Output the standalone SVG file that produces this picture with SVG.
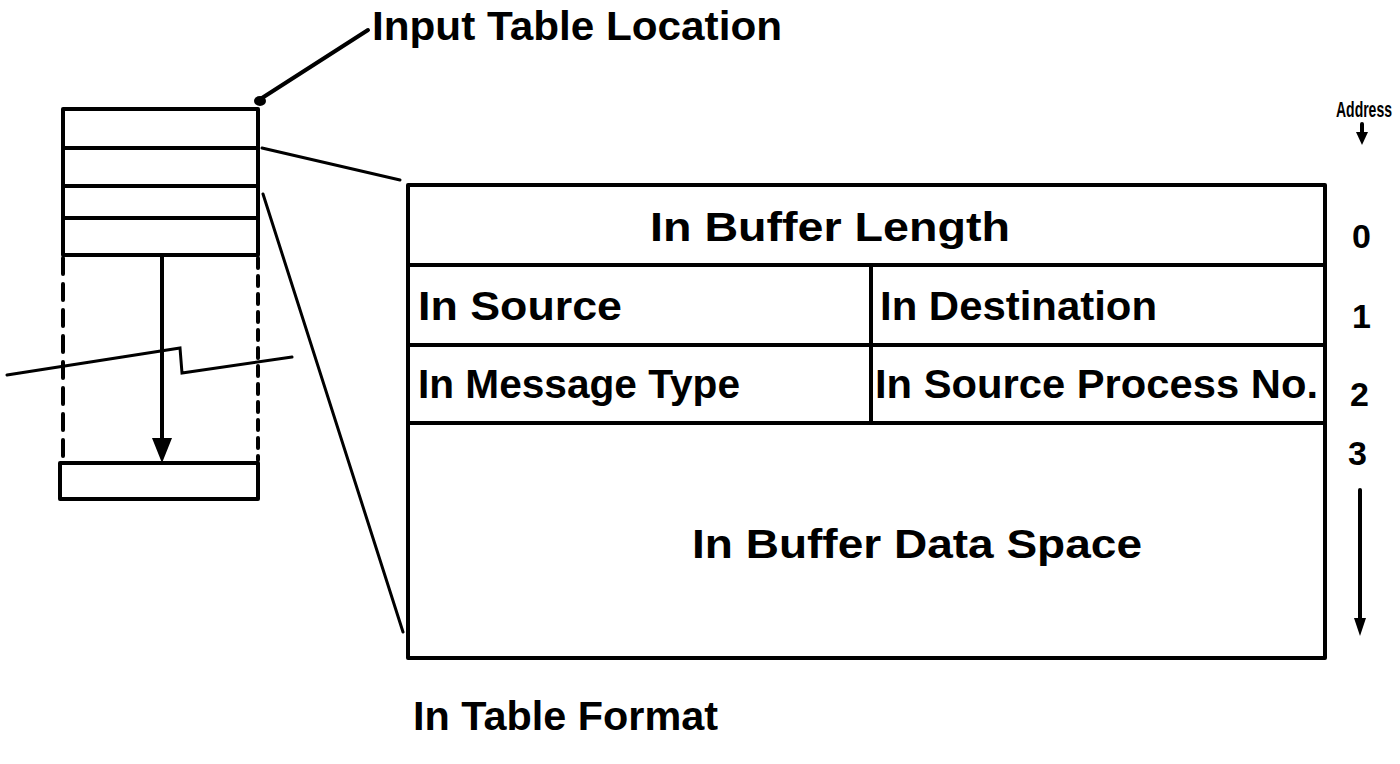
<svg xmlns="http://www.w3.org/2000/svg" width="1400" height="764" viewBox="0 0 1400 764">
<defs>
<style>
.ln{stroke:#000;stroke-width:4;fill:none;stroke-linecap:round;stroke-linejoin:round}
.thin{stroke:#000;stroke-width:3;fill:none;stroke-linecap:round}
.t{font-family:"Liberation Sans",Arial,sans-serif;font-weight:bold;font-size:40px;fill:#000}
.s{font-family:"Liberation Sans",Arial,sans-serif;font-weight:bold;font-size:14px;fill:#000}
.n{font-family:"Liberation Sans",Arial,sans-serif;font-weight:bold;font-size:34px;fill:#000}
</style>
</defs>
<rect width="1400" height="764" fill="#fff"/>

<g id="input-table-stack">
<rect class="ln" x="63" y="109" width="195" height="146"/>
<line class="ln" x1="63" y1="148" x2="258" y2="148"/>
<line class="ln" x1="63" y1="186" x2="258" y2="186"/>
<line class="ln" x1="63" y1="218" x2="258" y2="218"/>
<line class="ln" x1="63" y1="258" x2="63" y2="460" stroke-dasharray="16,10"/>
<line class="ln" x1="258" y1="258" x2="258" y2="460" stroke-dasharray="10,8"/>
<rect class="ln" x="60" y="463" width="198" height="36"/>
</g>

<g id="input-table-location-label">
<text class="t" x="372" y="40" textLength="410" lengthAdjust="spacingAndGlyphs">Input Table Location</text>
</g>

<g id="in-table-format">
<rect class="ln" x="408" y="185" width="917" height="473"/>
<line class="ln" x1="408" y1="265" x2="1325" y2="265"/>
<line class="ln" x1="408" y1="345" x2="1325" y2="345"/>
<line class="ln" x1="408" y1="423" x2="1325" y2="423"/>
<line class="ln" x1="871" y1="265" x2="871" y2="423"/>
<text class="t" x="650" y="241" textLength="360" lengthAdjust="spacingAndGlyphs">In Buffer Length</text>
<text class="t" x="418" y="320" textLength="204" lengthAdjust="spacingAndGlyphs">In  Source</text>
<text class="t" x="880" y="320" textLength="277" lengthAdjust="spacingAndGlyphs">In Destination</text>
<text class="t" x="418" y="398" textLength="322" lengthAdjust="spacingAndGlyphs">In Message Type</text>
<text class="t" x="875" y="398" textLength="443" lengthAdjust="spacingAndGlyphs">In Source Process No.</text>
<text class="t" x="692" y="558" textLength="450" lengthAdjust="spacingAndGlyphs">In Buffer Data  Space</text>
</g>

<g id="address-column">
<text class="s" transform="translate(1336,117) scale(1,1.6)" x="0" y="0">Address</text>
<text class="n" x="1352" y="248">0</text>
<text class="n" x="1352" y="328">1</text>
<text class="n" x="1350" y="406">2</text>
<text class="n" x="1348" y="465">3</text>
</g>

<g id="caption">
<text class="t" x="413" y="730" textLength="305" lengthAdjust="spacingAndGlyphs">In Table Format</text>
</g>

<g id="connectors">
<line class="ln" x1="368" y1="30" x2="262" y2="98"/>
<ellipse cx="260" cy="101" rx="6" ry="5" fill="#000"/>
<line class="thin" x1="262" y1="148" x2="400" y2="180"/>
<line class="thin" x1="263" y1="194" x2="403" y2="632"/>
<polyline class="thin" points="7,375 180,348 182,373 292,357"/>
<line class="ln" x1="162" y1="255" x2="162" y2="440"/>
<path d="M152,438 L172,438 L162,463 Z" fill="#000"/>
<line class="ln" x1="1362" y1="124" x2="1362" y2="134"/>
<path d="M1356,132 L1368,132 L1362,145 Z" fill="#000"/>
<line class="ln" x1="1360" y1="490" x2="1360" y2="622"/>
<path d="M1354,618 L1366,618 L1360,636 Z" fill="#000"/>
</g>
</svg>
